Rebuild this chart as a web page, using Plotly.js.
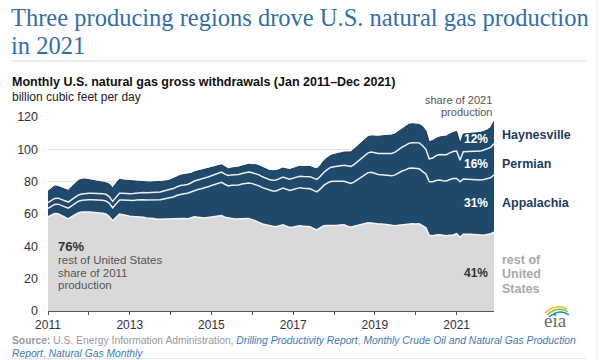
<!DOCTYPE html>
<html>
<head>
<meta charset="utf-8">
<script src="https://cdn.plot.ly/plotly-3.0.1.min.js"></script>
<style>
  html, body { margin: 0; padding: 0; background: #ffffff; }
  #chart { width: 600px; height: 360px; }
</style>
</head>
<body>
<div id="chart"></div>
<script>
// ---- Data (billion cubic feet per day), monthly Jan 2011 – Dec 2021 ----
const startYear = 2011;
const endYear = 2021;

const rest = [
  58.3, 59.4, 60.3, 60.2, 59.1, 58.2, 57.0, 58.3, 59.6, 60.8, 61.3, 61.5,
  61.3, 61.1, 61.0, 60.9, 60.5, 60.0, 58.5, 55.8, 58.0, 60.0, 59.6, 59.0,
  58.6, 58.4, 58.3, 58.3, 58.0, 57.6, 57.5, 57.2, 56.8, 56.9, 57.0, 56.9,
  57.0, 57.2, 57.4, 57.5, 57.2, 57.0, 57.6, 58.3, 58.0, 57.6, 57.5, 57.8,
  58.1, 58.3, 58.7, 59.0, 58.0, 57.4, 57.3, 56.9, 57.0, 57.3, 57.5, 57.2,
  56.5, 55.8, 54.8, 53.8, 53.2, 52.7, 52.4, 52.1, 52.7, 53.3, 52.5, 51.7,
  52.0, 52.4, 52.7, 52.5, 52.3, 52.1, 51.0, 50.2, 51.5, 52.7, 52.9, 53.1,
  53.0, 53.1, 53.2, 53.3, 52.5, 51.8, 52.4, 53.0, 53.5, 54.0, 54.6, 54.5,
  54.0, 53.8, 53.8, 53.8, 53.4, 53.0, 52.7, 53.0, 53.3, 53.5, 53.8, 53.9,
  53.8, 54.0, 52.8, 51.5, 46.8, 46.6, 47.0, 47.2, 46.8, 46.5, 46.8, 47.0,
  47.8, 45.6, 47.5, 47.6, 47.4, 47.3, 47.2, 47.0, 46.8, 47.3, 47.8, 48.8
];

const appalachia = [
  5.2, 5.4, 5.6, 5.9, 6.1, 6.4, 6.6, 6.8, 7.0, 7.1, 7.2, 7.3,
  7.5, 7.7, 7.8, 7.9, 8.0, 8.1, 8.2, 8.0, 8.3, 8.6, 9.0, 9.4,
  9.7, 10.0, 10.3, 10.5, 10.8, 11.0, 11.1, 11.3, 11.6, 11.9, 12.3, 12.8,
  13.1, 13.5, 14.2, 14.8, 15.3, 15.8, 16.0, 16.4, 17.2, 18.0, 18.6, 19.0,
  19.5, 20.0, 20.3, 20.6, 20.4, 20.0, 20.5, 20.8, 21.0, 21.2, 21.5, 22.0,
  22.3, 22.5, 22.6, 22.5, 22.3, 22.0, 21.9, 22.2, 22.5, 22.7, 22.8, 22.9,
  23.2, 23.5, 23.6, 23.5, 23.4, 23.5, 23.6, 23.5, 24.0, 25.0, 26.2, 27.0,
  27.2, 27.3, 27.0, 26.9, 27.0, 27.1, 27.5, 28.4, 29.2, 30.0, 31.0, 31.3,
  31.0, 30.6, 30.5, 30.2, 30.3, 30.6, 31.5, 32.5, 33.3, 33.8, 34.5, 34.6,
  34.3, 34.0, 33.6, 33.3, 33.2, 33.4, 33.7, 33.8, 33.8, 33.9, 34.5, 35.0,
  34.2, 34.3, 34.2, 33.9, 33.8, 33.9, 33.8, 34.0, 34.6, 34.4, 34.6, 35.5
];

const permian = [
  3.6, 3.6, 3.7, 3.7, 3.7, 3.8, 3.8, 3.8, 3.9, 3.9, 3.9, 4.0,
  4.0, 4.0, 4.0, 4.1, 4.1, 4.1, 4.1, 4.0, 4.1, 4.2, 4.2, 4.2,
  4.3, 4.3, 4.4, 4.4, 4.5, 4.5, 4.6, 4.6, 4.7, 4.8, 4.9, 5.0,
  5.1, 5.2, 5.3, 5.4, 5.4, 5.5, 5.6, 5.7, 5.8, 5.9, 6.0, 6.1,
  6.1, 6.2, 6.2, 6.3, 6.3, 6.4, 6.4, 6.5, 6.5, 6.6, 6.6, 6.7,
  6.7, 6.7, 6.8, 6.7, 6.6, 6.6, 6.6, 6.7, 6.7, 6.8, 6.8, 6.9,
  7.0, 7.0, 7.1, 7.2, 7.3, 7.5, 7.6, 7.7, 7.8, 8.0, 8.3, 8.7,
  9.0, 9.3, 9.6, 9.9, 10.2, 10.5, 10.8, 11.0, 11.4, 11.8, 12.2, 12.5,
  12.8, 13.0, 13.2, 13.4, 13.6, 13.8, 14.1, 14.4, 14.7, 15.1, 15.4, 15.6,
  15.9, 16.0, 16.0, 15.2, 14.1, 14.6, 15.4, 15.8, 16.1, 16.3, 16.5, 16.6,
  16.9, 13.4, 16.8, 17.1, 17.3, 17.5, 17.7, 17.9, 18.2, 18.5, 18.8, 19.3
];

const haynesville = [
  6.9, 7.6, 7.7, 7.2, 7.4, 7.1, 7.2, 7.9, 8.5, 9.0, 9.1, 8.8,
  8.4, 8.0, 7.7, 7.3, 7.2, 7.1, 7.7, 8.4, 8.6, 8.7, 8.2, 8.2,
  8.0, 7.7, 7.3, 7.0, 6.7, 6.4, 6.5, 6.8, 6.7, 6.5, 6.1, 5.8,
  6.0, 6.0, 6.1, 6.3, 6.4, 6.2, 5.8, 5.6, 5.5, 5.5, 5.4, 5.2,
  4.8, 4.6, 4.6, 4.5, 4.2, 4.1, 4.2, 4.4, 4.5, 4.5, 4.6, 4.9,
  5.0, 5.5, 5.6, 5.8, 5.7, 5.6, 5.9, 5.7, 5.7, 5.6, 5.8, 6.0,
  6.0, 6.1, 6.1, 6.2, 6.2, 6.3, 6.3, 6.5, 6.7, 7.2, 7.3, 7.4,
  7.6, 7.8, 8.0, 8.2, 8.6, 9.0, 9.5, 9.7, 9.9, 10.0, 10.0, 10.0,
  10.3, 10.6, 10.8, 11.0, 11.3, 11.4, 11.2, 11.0, 11.1, 11.5, 11.8, 11.7,
  11.6, 11.4, 11.8, 11.5, 10.6, 10.8, 10.6, 10.8, 11.2, 11.5, 11.7, 11.9,
  12.2, 10.4, 11.0, 11.1, 11.3, 11.3, 11.4, 11.5, 11.5, 11.7, 12.3, 13.7
];

const yTickVals = [0, 20, 40, 60, 80, 100, 120];
const xTickYears = [2011, 2012, 2013, 2014, 2015, 2016, 2017, 2018, 2019, 2020, 2021];
const xTickLabels = ['2011', '', '2013', '', '2015', '', '2017', '', '2019', '', '2021'];

// month axis
const months = [];
for (let y = startYear; y <= endYear; y++) {
  for (let m = 1; m <= 12; m++) {
    months.push(y + '-' + (m < 10 ? '0' + m : m) + '-01');
  }
}

// ---- styling ----
const NAVY = '#1f4a6c';
const GRAY = '#d9d9d9';
const FONT = 'Liberation Sans, Arial, sans-serif';
const W = 600, H = 360;
const M = { l: 48, r: 106, t: 117, b: 49 };
const PW = W - M.l - M.r, PH = H - M.t - M.b;
const px = (x) => (x - M.l) / PW;
const py = (y) => (H - M.b - y) / PH;

function mk(name, vals, fill, lineColor, lineWidth) {
  return {
    type: 'scatter', mode: 'lines', name: name,
    x: months, y: vals, stackgroup: 'one',
    fillcolor: fill,
    line: { color: lineColor, width: lineWidth, shape: 'linear' },
    hoverinfo: 'skip'
  };
}

const traces = [
  mk('rest of United States', rest, GRAY, '#f4f4f4', 1.5),
  mk('Appalachia', appalachia, NAVY, '#eeeeee', 1.5),
  mk('Permian', permian, NAVY, '#eeeeee', 1.5),
  mk('Haynesville', haynesville, NAVY, '#16385a', 1)
];

function ann(text, x, y, opts) {
  return Object.assign({
    text: text, x: px(x), y: py(y), xref: 'paper', yref: 'paper',
    showarrow: false, xanchor: 'left', yanchor: 'middle',
    font: { family: FONT, size: 12, color: '#333' }
  }, opts || {});
}

const TITLE_FONT = { family: 'Liberation Serif, Times New Roman, serif', size: 24.5, color: '#2f6fb0' };

const annotations = [
  ann('Three producing regions drove U.S. natural gas production', 9, 17.5, { font: TITLE_FONT }),
  ann('in 2021', 9, 45, { font: TITLE_FONT }),
  ann('<b>Monthly U.S. natural gas gross withdrawals (Jan 2011\u2013Dec 2021)</b>', 10, 82,
      { font: { family: FONT, size: 12.5, color: '#111' } }),
  ann('billion cubic feet per day', 10, 97, { font: { family: FONT, size: 12, color: '#222' } }),
  ann('share of 2021', 494, 100, { xanchor: 'right', font: { family: FONT, size: 11, color: '#555' } }),
  ann('production', 494, 111.5, { xanchor: 'right', font: { family: FONT, size: 11, color: '#555' } }),

  ann('<b>Haynesville</b>', 500, 134.5, { font: { family: FONT, size: 12.5, color: '#1b3d60' } }),
  ann('<b>Permian</b>', 500, 163.5, { font: { family: FONT, size: 12.5, color: '#1b3d60' } }),
  ann('<b>Appalachia</b>', 500, 202.5, { font: { family: FONT, size: 12.5, color: '#1b3d60' } }),
  ann('<b>rest of</b>', 500, 259.5, { font: { family: FONT, size: 12.5, color: '#a9a9a9' } }),
  ann('<b>United</b>', 500, 274, { font: { family: FONT, size: 12.5, color: '#a9a9a9' } }),
  ann('<b>States</b>', 500, 288.5, { font: { family: FONT, size: 12.5, color: '#a9a9a9' } }),

  ann('<b>12%</b>', 490, 138.5, { xanchor: 'right', font: { family: FONT, size: 12, color: '#ffffff' } }),
  ann('<b>16%</b>', 490, 163.5, { xanchor: 'right', font: { family: FONT, size: 12, color: '#ffffff' } }),
  ann('<b>31%</b>', 490, 202.5, { xanchor: 'right', font: { family: FONT, size: 12, color: '#ffffff' } }),
  ann('<b>41%</b>', 490, 273, { xanchor: 'right', font: { family: FONT, size: 12, color: '#333333' } }),

  ann('<b>76%</b>', 56, 246, { font: { family: FONT, size: 13, color: '#333' } }),
  ann('rest of United States', 56, 259.5, { font: { family: FONT, size: 11.5, color: '#555' } }),
  ann('share of 2011', 56, 272.5, { font: { family: FONT, size: 11.5, color: '#555' } }),
  ann('production', 56, 285, { font: { family: FONT, size: 11.5, color: '#555' } }),

  ann('<b>Source:</b> U.S. Energy Information Administration, ' +
      '<i><span style="color:#3b78bd">Drilling Productivity Report</span></i>, ' +
      '<i><span style="color:#3b78bd">Monthly Crude Oil and Natural Gas Production</span></i><br>' +
      '<i><span style="color:#3b78bd">Report</span></i>, ' +
      '<i><span style="color:#3b78bd">Natural Gas Monthly</span></i>',
      10, 346.5, { align: 'left', font: { family: FONT, size: 10.3, color: '#999' } }),

  ann('eia', 555, 320, { xanchor: 'center', font: { family: 'Liberation Serif, serif', size: 19, color: '#6b6b6b' } })
];

const shapes = [
  { type: 'line', xref: 'paper', yref: 'paper', x0: px(12), x1: px(586), y0: py(61), y1: py(61),
    line: { color: '#dddddd', width: 1 } },
  { type: 'line', xref: 'paper', yref: 'paper', x0: px(12), x1: px(586), y0: py(358.5), y1: py(358.5),
    line: { color: '#e6e6e6', width: 1 } },
  { type: 'line', xref: 'paper', yref: 'paper', x0: px(597), x1: px(597), y0: py(0), y1: py(360),
    line: { color: '#eeeeee', width: 1 } },
  { type: 'path', xref: 'paper', yref: 'paper',
    path: 'M ' + px(545) + ',' + py(313) + ' Q ' + px(556) + ',' + py(303) + ' ' + px(567) + ',' + py(309),
    line: { color: '#f0c020', width: 1.5 } },
  { type: 'path', xref: 'paper', yref: 'paper',
    path: 'M ' + px(547) + ',' + py(315) + ' Q ' + px(558) + ',' + py(305) + ' ' + px(568) + ',' + py(312),
    line: { color: '#8cc63f', width: 1.5 } },
  { type: 'path', xref: 'paper', yref: 'paper',
    path: 'M ' + px(549) + ',' + py(317) + ' Q ' + px(560) + ',' + py(308) + ' ' + px(569) + ',' + py(315),
    line: { color: '#0096d6', width: 1.5 } }
];

const layout = {
  width: W, height: H,
  margin: M,
  paper_bgcolor: '#ffffff', plot_bgcolor: '#ffffff',
  showlegend: false,
  hovermode: false,
  font: { family: FONT, size: 12, color: '#333' },
  xaxis: {
    type: 'date',
    range: [months[0], months[months.length - 1]],
    tickvals: xTickYears.map(y => y + '-01-01'),
    ticktext: xTickLabels,
    ticks: 'outside', ticklen: 3, tickwidth: 1, tickcolor: '#555',
    showline: true, linecolor: '#555', linewidth: 1,
    showgrid: false, zeroline: false,
    tickfont: { family: FONT, size: 12, color: '#333' }
  },
  yaxis: {
    range: [0, 120],
    tickvals: yTickVals,
    ticks: '', showline: false, zeroline: false,
    showgrid: true, gridcolor: '#e2e2e2', gridwidth: 1,
    ticklabelstandoff: 9,
    tickfont: { family: FONT, size: 12.5, color: '#333' }
  },
  annotations: annotations,
  shapes: shapes
};

Plotly.newPlot('chart', traces, layout, { staticPlot: true, displayModeBar: false });
</script>
</body>
</html>
